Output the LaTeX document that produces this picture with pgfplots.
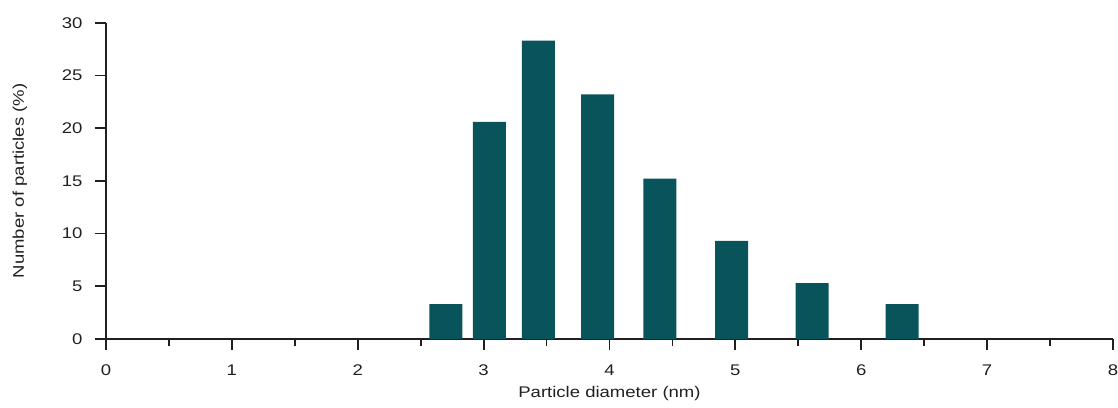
\documentclass[border=0pt]{standalone}
\usepackage{pgfplots}
\pgfplotsset{compat=1.18}
\usepackage{fontspec}
\setmainfont{Liberation Sans}[FakeStretch=1.2]
\definecolor{barcol}{RGB}{9,84,90}
\definecolor{ink}{RGB}{35,31,32}
\begin{document}
\begin{tikzpicture}
\begin{axis}[
    scale only axis,
    width=1007bp, height=316.3bp,
    xmin=0, xmax=8, ymin=0, ymax=30,
    axis x line*=bottom, axis y line*=left,
    axis line style={ink, line width=1.8bp, -},
    xtick={0,...,8}, minor x tick num=1,
    ytick={0,5,...,30},
    tick align=outside,
    major tick length=11bp, minor tick length=7bp,
    tick style={ink, line width=1.8bp},
    /pgf/number format/assume math mode=true,
    ticklabel style={font=\fontsize{15.5}{18}\selectfont, text=ink},
    xticklabel style={yshift=-11bp},
    yticklabel style={xshift=-9bp},
    label style={font=\fontsize{15.5}{18}\selectfont, text=ink},
    xlabel={Particle diameter (nm)},
    ylabel={Number of particles (\%)},
    xlabel style={at={(axis description cs:0.5,-0.1856)}, anchor=base},
    ylabel style={at={(axis description cs:-0.0854,0.5)}, anchor=center},
    clip=false,
    ybar, bar width=0.262,
]
% particle size distribution bars
\addplot[fill=barcol, draw=none] coordinates {
    (2.700,3.3) (3.045,20.6) (3.435,28.3) (3.905,23.2)
    (4.400,15.2) (4.970,9.3) (5.610,5.3) (6.325,3.3)
};
% x axis line runs a little past the y axis
\draw[ink, line width=1.8bp] (axis cs:0,0) -- ++(-9bp,0);
\coordinate (sw) at (rel axis cs:0,0);
\end{axis}
\pgfresetboundingbox
\path[use as bounding box] ([xshift=-106bp,yshift=-69bp]sw) rectangle ++(1118bp,408bp);
\end{tikzpicture}
\end{document}
